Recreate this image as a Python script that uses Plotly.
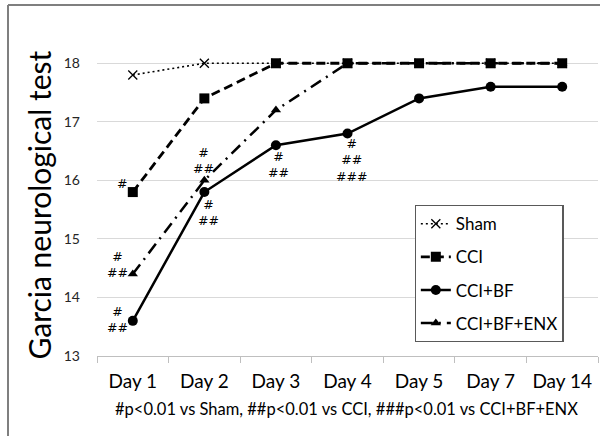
import plotly.graph_objects as go

# Garcia neurological score by group over the recovery period
days = ["Day 1", "Day 2", "Day 3", "Day 4", "Day 5", "Day 7", "Day 14"]
sham = [17.8, 18.0, 18.0, 18.0, 18.0, 18.0, 18.0]
cci = [15.8, 17.4, 18.0, 18.0, 18.0, 18.0, 18.0]
cci_bf = [13.6, 15.8, 16.6, 16.8, 17.4, 17.6, 17.6]
cci_bf_enx = [14.4, 16.0, 17.2, 18.0, 18.0, 18.0, 18.0]

# significance marks: (series, day index, stacked label, pixel offset from the point)
sig_marks = [
    ("CCI", 0, "#", (-11, 9)),
    ("CCI+BF+ENX", 0, "#<br>##", (-15, 10)),
    ("CCI+BF", 0, "#<br>##", (-15, 1)),
    ("CCI+BF+ENX", 1, "#<br>##", (-1, 20)),
    ("CCI+BF", 1, "#<br>##", (4, -20)),
    ("CCI+BF", 2, "#<br>##", (3, -19)),
    ("CCI+BF", 3, "#<br>##<br>###", (4, -26)),
]
series_values = {"Sham": sham, "CCI": cci, "CCI+BF": cci_bf, "CCI+BF+ENX": cci_bf_enx}

FONT = "Lato"
fig = go.Figure()

# ENX drawn first so the CCI squares sit on top where the lines meet at 18
fig.add_trace(go.Scatter(
    x=days, y=cci_bf_enx, name="CCI+BF+ENX", mode="lines+markers",
    line=dict(color="black", width=2.5, dash="12px,6px,2px,6px"),
    marker=dict(symbol="triangle-up", size=9, color="black"),
    legendrank=4, legendgroup="d",
))
fig.add_trace(go.Scatter(
    x=days, y=sham, name="Sham", mode="lines+markers",
    line=dict(color="black", width=1.6, dash="2px,3px"),
    marker=dict(symbol="x-thin-open", size=9, line=dict(color="black", width=1.3)),
    legendrank=1, legendgroup="a",
))
fig.add_trace(go.Scatter(
    x=days, y=cci_bf, name="CCI+BF", mode="lines+markers",
    line=dict(color="black", width=2.5),
    marker=dict(symbol="circle", size=10, color="black"),
    legendrank=3, legendgroup="c",
))
fig.add_trace(go.Scatter(
    x=days, y=cci, name="CCI", mode="lines+markers",
    line=dict(color="black", width=2.8, dash="9px,5px"),
    marker=dict(symbol="square", size=10, color="black"),
    legendrank=2, legendgroup="b",
))

annotations = []
for name, idx, txt, (dx, dy) in sig_marks:
    annotations.append(dict(
        x=days[idx], y=series_values[name][idx], text=txt, showarrow=False,
        xshift=dx, yshift=dy, xanchor="center", yanchor="middle", align="center",
        font=dict(family="DejaVu Sans", size=12.5, color="black"),
    ))

# y-axis title and footnote
annotations.append(dict(
    xref="paper", yref="paper", x=-0.116, y=0.47, text="Garcia neurological test",
    textangle=-90, showarrow=False, xanchor="center", yanchor="middle",
    font=dict(family=FONT, size=30, color="black"),
))
annotations.append(dict(
    xref="paper", yref="paper", x=0.499, y=-0.164,
    text="#p<0.01 vs Sham, ##p<0.01 vs CCI, ###p<0.01 vs CCI+BF+ENX",
    showarrow=False, xanchor="center", yanchor="middle",
    font=dict(family=FONT, size=16.5, color="black"),
))

fig.update_layout(
    width=600, height=436,
    margin=dict(l=97, r=2, t=34, b=80, autoexpand=False),
    paper_bgcolor="white", plot_bgcolor="white",
    font=dict(family=FONT, color="black"),
    showlegend=True,
    legend=dict(
        x=0.634, y=0.469, xanchor="left", yanchor="top",
        bgcolor="white", bordercolor="#595959", borderwidth=1.2,
        font=dict(family=FONT, size=17, color="black"),
        tracegroupgap=8, itemwidth=30,
    ),
    xaxis=dict(
        type="category", range=[-0.5, 6.5], showgrid=False,
        showline=True, linecolor="#bfbfbf", linewidth=1,
        ticks="outside", tickson="boundaries", ticklen=6, tickcolor="#bfbfbf",
        ticklabelstandoff=8, tickangle=0, automargin=False,
        tickfont=dict(family=FONT, size=19, color="black"),
        fixedrange=True,
    ),
    yaxis=dict(
        range=[13, 18.5], tick0=13, dtick=1, showgrid=True, gridcolor="#d9d9d9",
        gridwidth=1, zeroline=False, showline=False, ticks="",
        ticklabelstandoff=16, automargin=False,
        tickfont=dict(family=FONT, size=14, color="#262626"),
        fixedrange=True,
    ),
    annotations=annotations,
    shapes=[
        # outer chart border (top and left edges)
        dict(type="line", xref="paper", yref="paper",
             x0=-89 / 501, x1=1.01, y0=1 + 29 / 322, y1=1 + 29 / 322,
             line=dict(color="#7f7f7f", width=2)),
        dict(type="line", xref="paper", yref="paper",
             x0=-89 / 501, x1=-89 / 501, y0=1 + 29 / 322, y1=-0.3,
             line=dict(color="#7f7f7f", width=2)),
    ],
)

fig.write_html("out.html")
